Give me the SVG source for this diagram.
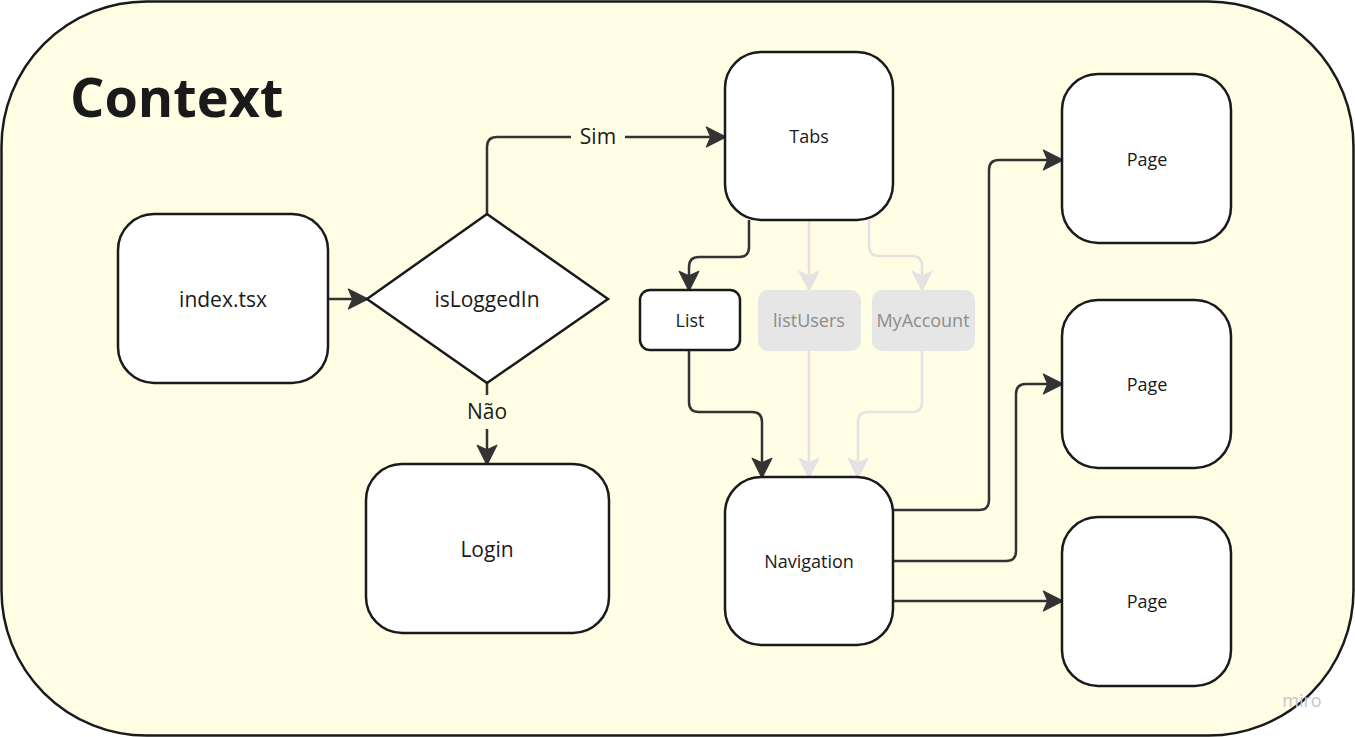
<svg xmlns="http://www.w3.org/2000/svg" width="1355" height="737" viewBox="0 0 1355 737">
<defs>
<style>
.node{fill:#ffffff;stroke:#1a1a1a;stroke-width:2.5}
.ghost{fill:#e6e6e6;stroke:none}
.lbl{font-family:"Open Sans","Liberation Sans",sans-serif;fill:#1a1a1a;text-anchor:middle;dominant-baseline:central}
.glbl{font-family:"Open Sans","Liberation Sans",sans-serif;fill:#8c8c8c;text-anchor:middle;dominant-baseline:central}
.edge{fill:none;stroke:#333333;stroke-width:2.5;stroke-linejoin:round}
.gedge{fill:none;stroke:#e3e3e3;stroke-width:2.5;stroke-linejoin:round}
</style>
<marker id="ah" viewBox="0 0 20 20" refX="18" refY="10" markerWidth="22" markerHeight="22" markerUnits="userSpaceOnUse" orient="auto">
<path d="M1,1 L19,10 L1,19 L5,10 Z" fill="#333333" stroke="#333333" stroke-width="1" stroke-linejoin="round"/>
</marker>
<marker id="gah" viewBox="0 0 20 20" refX="18" refY="10" markerWidth="22" markerHeight="22" markerUnits="userSpaceOnUse" orient="auto">
<path d="M1,1 L19,10 L1,19 L5,10 Z" fill="#e3e3e3" stroke="#e3e3e3" stroke-width="1" stroke-linejoin="round"/>
</marker>
</defs>

<g id="context">
<rect x="1.5" y="1.5" width="1352" height="734" rx="145" ry="145" fill="#fffde4" stroke="#1a1a1a" stroke-width="2.5"/>
<text x="70" y="117" font-family="'Open Sans','Liberation Sans',sans-serif" font-weight="bold" font-size="54" fill="#1a1a1a">Context</text>
</g>

<g id="connectors">
<path class="edge" d="M328,299 L367,299" marker-end="url(#ah)"/>
<path class="edge" d="M487,214 L487,147 Q487,137 497,137 L571,137 M625,137 L725,137" marker-end="url(#ah)"/>
<text class="lbl" x="598" y="136" font-size="21" fill="#333333">Sim</text>
<path class="edge" d="M487,383 L487,395 M487,429 L487,464" marker-end="url(#ah)"/>
<text class="lbl" x="487" y="411" font-size="21" fill="#333333">Não</text>
<path class="edge" d="M749,220 L749,247 Q749,257 739,257 L699,257 Q689,257 689,267 L689,290" marker-end="url(#ah)"/>
<path class="gedge" d="M809,220 L809,290" marker-end="url(#gah)"/>
<path class="gedge" d="M869,220 L869,246 Q869,256 879,256 L912,256 Q922,256 922,266 L922,290" marker-end="url(#gah)"/>
<path class="edge" d="M689,350 L689,402 Q689,412 699,412 L752,412 Q762,412 762,422 L762,477" marker-end="url(#ah)"/>
<path class="gedge" d="M809,350 L809,477" marker-end="url(#gah)"/>
<path class="gedge" d="M922,350 L922,402 Q922,412 912,412 L868,412 Q858,412 858,422 L858,477" marker-end="url(#gah)"/>
<path class="edge" d="M893,510 L979,510 Q989,510 989,500 L989,170 Q989,160 999,160 L1062,160" marker-end="url(#ah)"/>
<path class="edge" d="M893,561 L1006,561 Q1016,561 1016,551 L1016,394 Q1016,384 1026,384 L1062,384" marker-end="url(#ah)"/>
<path class="edge" d="M893,601 L1062,601" marker-end="url(#ah)"/>
</g>

<g id="index">
<rect class="node" x="118" y="214" width="210" height="169" rx="36"/>
<text class="lbl" x="223" y="299" font-size="21">index.tsx</text>
</g>

<g id="isLoggedIn">
<path class="node" d="M487,214 L608,299 L487,383 L367,299 Z"/>
<text class="lbl" x="487" y="299" font-size="21">isLoggedIn</text>
</g>

<g id="login">
<rect class="node" x="366" y="464" width="243" height="169" rx="36"/>
<text class="lbl" x="487" y="549" font-size="21">Login</text>
</g>

<g id="tabs">
<rect class="node" x="725" y="52" width="168" height="168" rx="36"/>
<text class="lbl" x="809" y="136" font-size="18">Tabs</text>
</g>

<g id="list">
<rect class="node" x="640" y="290" width="100" height="60" rx="10"/>
<text class="lbl" x="690" y="320" font-size="18">List</text>
</g>

<g id="listUsers">
<rect class="ghost" x="758" y="290" width="103" height="61" rx="10"/>
<text class="glbl" x="809" y="320" font-size="18">listUsers</text>
</g>

<g id="myAccount">
<rect class="ghost" x="872" y="290" width="103" height="61" rx="10"/>
<text class="glbl" x="923" y="320" font-size="18">MyAccount</text>
</g>

<g id="navigation">
<rect class="node" x="725" y="477" width="168" height="168" rx="36"/>
<text class="lbl" x="809" y="561" font-size="18">Navigation</text>
</g>

<g id="page1">
<rect class="node" x="1062" y="74" width="169" height="169" rx="36"/>
<text class="lbl" x="1147" y="159" font-size="18">Page</text>
</g>

<g id="page2">
<rect class="node" x="1062" y="300" width="169" height="168" rx="36"/>
<text class="lbl" x="1147" y="384" font-size="18">Page</text>
</g>

<g id="page3">
<rect class="node" x="1062" y="517" width="169" height="169" rx="36"/>
<text class="lbl" x="1147" y="601" font-size="18">Page</text>
</g>

<text x="1302" y="700" font-family="'Open Sans','Liberation Sans',sans-serif" font-size="18" fill="#c5c5cf" text-anchor="middle" dominant-baseline="central">miro</text>
</svg>
